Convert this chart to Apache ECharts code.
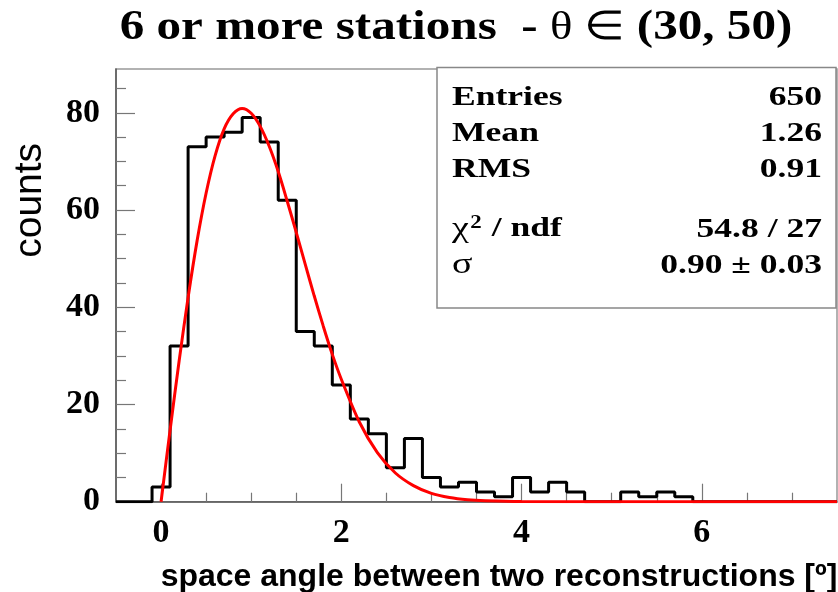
<!DOCTYPE html>
<html><head><meta charset="utf-8">
<script src="https://cdn.jsdelivr.net/npm/echarts@6/dist/echarts.min.js"></script>
<style>html,body{margin:0;padding:0;background:#fff}#c{width:838px;height:592px}</style>
</head><body><div id="c"></div>
<script>
// Histogram: 40 bins from -0.5 to 7.5 (bin width 0.2)
const histMin = -0.5;
const binWidth = 0.2;
const binCounts = [0,0,3,32,73,75,76,79,74,62,35,32,24,17,14,7,13,5,3,4,2,1,5,2,4,2,0,0,2,1,2,1,0,0,0,0,0,0,0,0];
// Fit curve
const fitX = [0,0.1,0.2,0.3,0.4,0.5,0.6,0.7,0.8,0.9,1.0,1.1,1.2,1.3,1.4,1.5,1.6,1.7,1.8,1.9,2.0,2.2,2.4,2.6,2.8,3.0,3.2,3.4,3.6,4.0,5.0,7.5];
const fitY = [0,14.7,28.9,42.0,53.7,63.5,71.2,76.7,79.8,80.9,79.9,77.2,73.1,67.9,61.8,55.4,48.8,42.3,36.1,30.3,25.2,16.4,10.1,5.9,3.3,1.7,0.85,0.4,0.2,0.03,0,0];
// Axis ticks / labels
const xMajor = [0,2,4,6];
const xMinor = [0.5,1,1.5,2.5,3,3.5,4.5,5,5.5,6.5,7];
const yMajor = [0,20,40,60,80];
const yMinor = [5,10,15,25,30,35,45,50,55,65,70,75,85];
// Stats box text
const statLabels = ['Entries','Mean','RMS'];
const statValues = ['650','1.26','0.91'];
const fitLabel = '54.8 / 27';
const sigmaLabel = '0.90 \u00b1 0.03';

const histPoints = binCounts.map((c,i)=>[+(histMin + i*binWidth).toFixed(2), c]);
histPoints.push([+(histMin + binCounts.length*binWidth).toFixed(2), binCounts[binCounts.length-1]]);
const fitPoints = fitX.map((x,i)=>[x, fitY[i]]);

const serif = '"Liberation Serif","Times New Roman",serif';
const sans = '"Liberation Sans",Arial,sans-serif';
const XMIN=-0.5, XMAX=7.5, YMIN=0, YMAX=89;

const chart = echarts.init(document.getElementById('c'));
const tickColor = '#777';
const statFont = 'bold 28px ' + serif;
const SX = 1.27;

function stxt(text, x, y, align, font, rich){
  const st = {text, x:0, y:0, font, fill:'#000', align, textAlign:align, verticalAlign:'middle', textVerticalAlign:'middle'};
  if (rich) st.rich = rich;
  return {type:'text', x, y, scaleX:SX, z:110, style:st};
}
const rowsY = [97.5, 133.3, 170];
const graphics = [
  {type:'rect', z:100, shape:{x:437, y:67.5, width:399, height:240.5}, style:{fill:'#fff', stroke:'#888', lineWidth:1.5}},
];
statLabels.forEach((t,i)=>graphics.push(stxt(t, 452, rowsY[i], 'left', statFont)));
statValues.forEach((t,i)=>graphics.push(stxt(t, 822, rowsY[i], 'right', statFont)));
graphics.push(stxt('{g|\u03c7}{s|2}{b| / ndf}', 452, 229, 'left', statFont, {
  g:{font:'30px '+serif, fill:'#000'},
  s:{font:'bold 18px '+serif, fill:'#000', verticalAlign:'top', padding:[0,1,12,1]},
  b:{font:'bold 28px '+serif, fill:'#000'}}));
graphics.push(stxt(fitLabel, 822, 230, 'right', statFont));
graphics.push(stxt('{g|\u03c3}', 452, 265, 'left', statFont, {g:{font:'30px '+serif, fill:'#000'}}));
graphics.push(stxt(sigmaLabel, 822, 265.3, 'right', statFont));
// Title
graphics.push({type:'text', x:456, y:28, scaleX:1.17, z:110, style:{
  text:'{b|6 or more stations  - }{g|\u03b8 \u2208 }{b|(30, 50)}', x:0, y:0,
  align:'center', textAlign:'center', verticalAlign:'middle', textVerticalAlign:'middle', fill:'#000',
  font:'bold 42px '+serif,
  rich:{b:{font:'bold 42px '+serif, fill:'#000'}, g:{font:'40px '+serif, fill:'#000'}}
}});

chart.setOption({
  animation:false,
  backgroundColor:'#fff',
  grid:{left:116, right:1, top:69, bottom:90.3, show:true, borderColor:'#999', borderWidth:1.5, backgroundColor:'transparent', containLabel:false, outerBoundsMode:'none'},
  xAxis:[{
    type:'value', min:XMIN, max:XMAX, position:'bottom',
    axisLine:{show:true, onZero:false, lineStyle:{color:'#555', width:1.5}},
    axisTick:{show:true, inside:true, length:18, customValues:xMajor, lineStyle:{color:tickColor, width:1.2}},
    axisLabel:{customValues:xMajor, margin:15, color:'#000', fontFamily:serif, fontWeight:'bold', fontSize:34},
    splitLine:{show:false},
    name:'space angle between two reconstructions [\u00ba]', nameLocation:'middle', nameGap:59,
    nameTextStyle:{fontFamily:sans, fontWeight:'bold', fontSize:32, color:'#000', padding:[0,0,0,45]}
  },{
    type:'value', min:XMIN, max:XMAX, position:'bottom',
    axisLine:{show:false, onZero:false},
    axisTick:{show:true, inside:true, length:9, customValues:xMinor, lineStyle:{color:tickColor, width:1.2}},
    axisLabel:{show:false}, splitLine:{show:false}
  }],
  yAxis:[{
    type:'value', min:YMIN, max:YMAX, position:'left',
    axisLine:{show:true, onZero:false, lineStyle:{color:'#555', width:1.5}},
    axisTick:{show:true, inside:true, length:19, customValues:yMajor, lineStyle:{color:tickColor, width:1.2}},
    axisLabel:{customValues:yMajor, margin:16, color:'#000', fontFamily:serif, fontWeight:'bold', fontSize:34},
    splitLine:{show:false},
    name:'counts', nameLocation:'middle', nameRotate:90, nameGap:66,
    nameTextStyle:{fontFamily:sans, fontSize:39, color:'#000', padding:[0,0,0,170]}
  },{
    type:'value', min:YMIN, max:YMAX, position:'left',
    axisLine:{show:false, onZero:false},
    axisTick:{show:true, inside:true, length:10, customValues:yMinor, lineStyle:{color:tickColor, width:1.2}},
    axisLabel:{show:false}, splitLine:{show:false}
  }],
  series:[{
    type:'line', xAxisIndex:0, yAxisIndex:0, data:histPoints, step:'end', symbol:'none',
    lineStyle:{color:'#000', width:3}, z:3
  },{
    type:'line', xAxisIndex:0, yAxisIndex:0, data:fitPoints, smooth:0.3, symbol:'none',
    lineStyle:{color:'#ff0000', width:3}, z:4
  }],
  graphic:graphics
});
</script></body></html>
